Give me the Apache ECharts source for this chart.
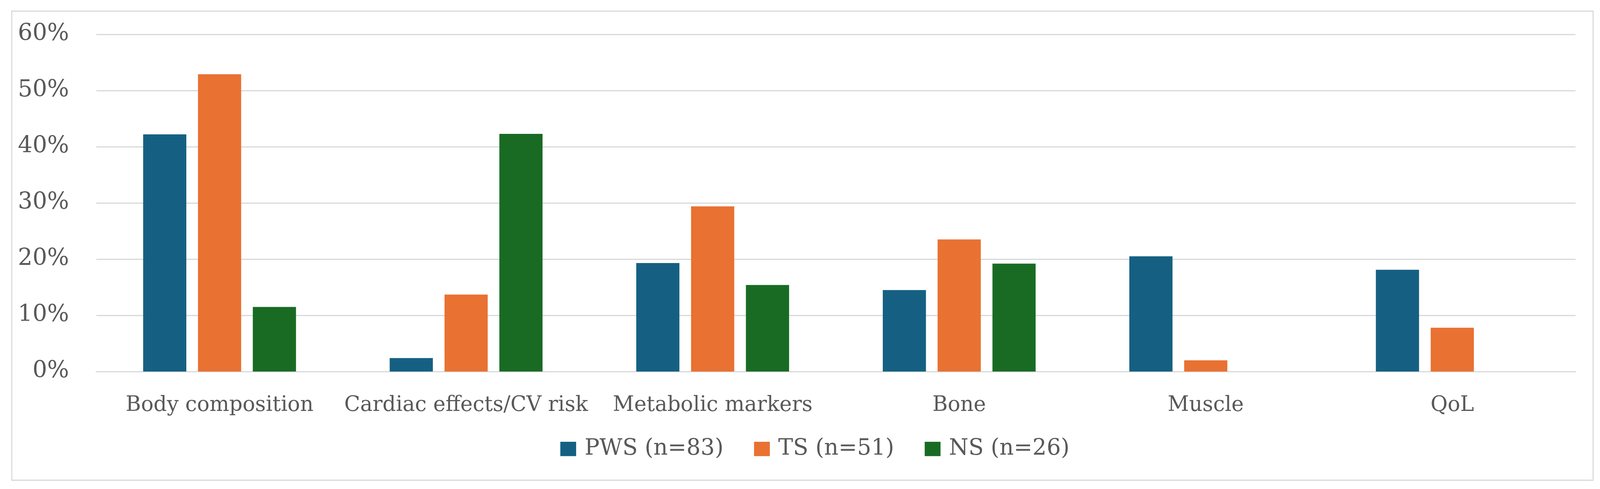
<!DOCTYPE html>
<html>
<head>
<meta charset="utf-8">
<script src="https://cdn.jsdelivr.net/npm/echarts@6/dist/echarts.min.js"></script>
<style>
html,body{margin:0;padding:0;background:#fff;overflow:hidden;}
#chart{width:100vw;height:100vh;}
</style>
</head>
<body>
<div id="chart"></div>
<script>
const categories = ['Body composition', 'Cardiac effects/CV risk', 'Metabolic markers', 'Bone', 'Muscle', 'QoL'];
const seriesNames = ['PWS (n=83)', 'TS (n=51)', 'NS (n=26)'];
const pwsValues = [42.2, 2.4, 19.3, 14.5, 20.5, 18.1];
const tsValues = [52.9, 13.7, 29.4, 23.5, 2.0, 7.8];
const nsValues = [11.5, 42.3, 15.4, 19.2, 0, 0];
const yTicks = [0, 10, 20, 30, 40, 50, 60];
const colors = ['#156082', '#E97132', '#196B24'];

const FONT = 'DejaVu Serif';
const el = document.getElementById('chart');
const W = el.clientWidth || window.innerWidth, H = el.clientHeight || window.innerHeight;
const sx = W / 4453, sy = H / 1253, sf = Math.min(sx, sy);
const px = v => v * sx;
const py = v => v * sy;
const pf = v => v * sf;
const chart = echarts.init(el, null, {renderer: 'canvas'});
const allValues = [pwsValues, tsValues, nsValues];
chart.setOption({
  animation: false,
  backgroundColor: '#ffffff',
  color: colors,
  graphic: [{
    type: 'rect',
    left: px(30), top: py(26),
    shape: {width: px(4401), height: py(1202)},
    style: {fill: 'none', stroke: '#d9d9d9', lineWidth: pf(3)},
    silent: true
  }],
  grid: {left: px(268), width: px(4117), top: py(88), height: py(864), containLabel: false},
  legend: {
    data: seriesNames,
    left: px(1554),
    top: py(1150) - pf(36),
    itemWidth: pf(44),
    itemHeight: pf(40),
    itemGap: px(85),
    icon: 'rect',
    textStyle: {fontFamily: FONT, fontSize: pf(62), color: '#595959', padding: [0, 0, 0, pf(18)]}
  },
  xAxis: {
    type: 'category',
    data: categories,
    axisLine: {show: true, lineStyle: {color: '#d9d9d9', width: pf(3)}},
    axisTick: {show: false},
    axisLabel: {fontFamily: FONT, fontSize: pf(58), color: '#595959', margin: py(88) - pf(30), interval: 0}
  },
  yAxis: {
    type: 'value',
    min: 0, max: 60, interval: 10,
    axisLine: {show: false},
    axisTick: {show: false},
    splitLine: {lineStyle: {color: '#d9d9d9', width: pf(3)}},
    axisLabel: {
      fontFamily: FONT, fontSize: pf(64), color: '#595959', margin: px(76),
      formatter: v => (yTicks.includes(v) ? v + '%' : '')
    }
  },
  series: seriesNames.map((n, i) => ({
    name: n,
    type: 'bar',
    data: allValues[i],
    barGap: '27%',
    barCategoryGap: '38%',
    itemStyle: {color: colors[i]}
  }))
});
</script>
</body>
</html>
